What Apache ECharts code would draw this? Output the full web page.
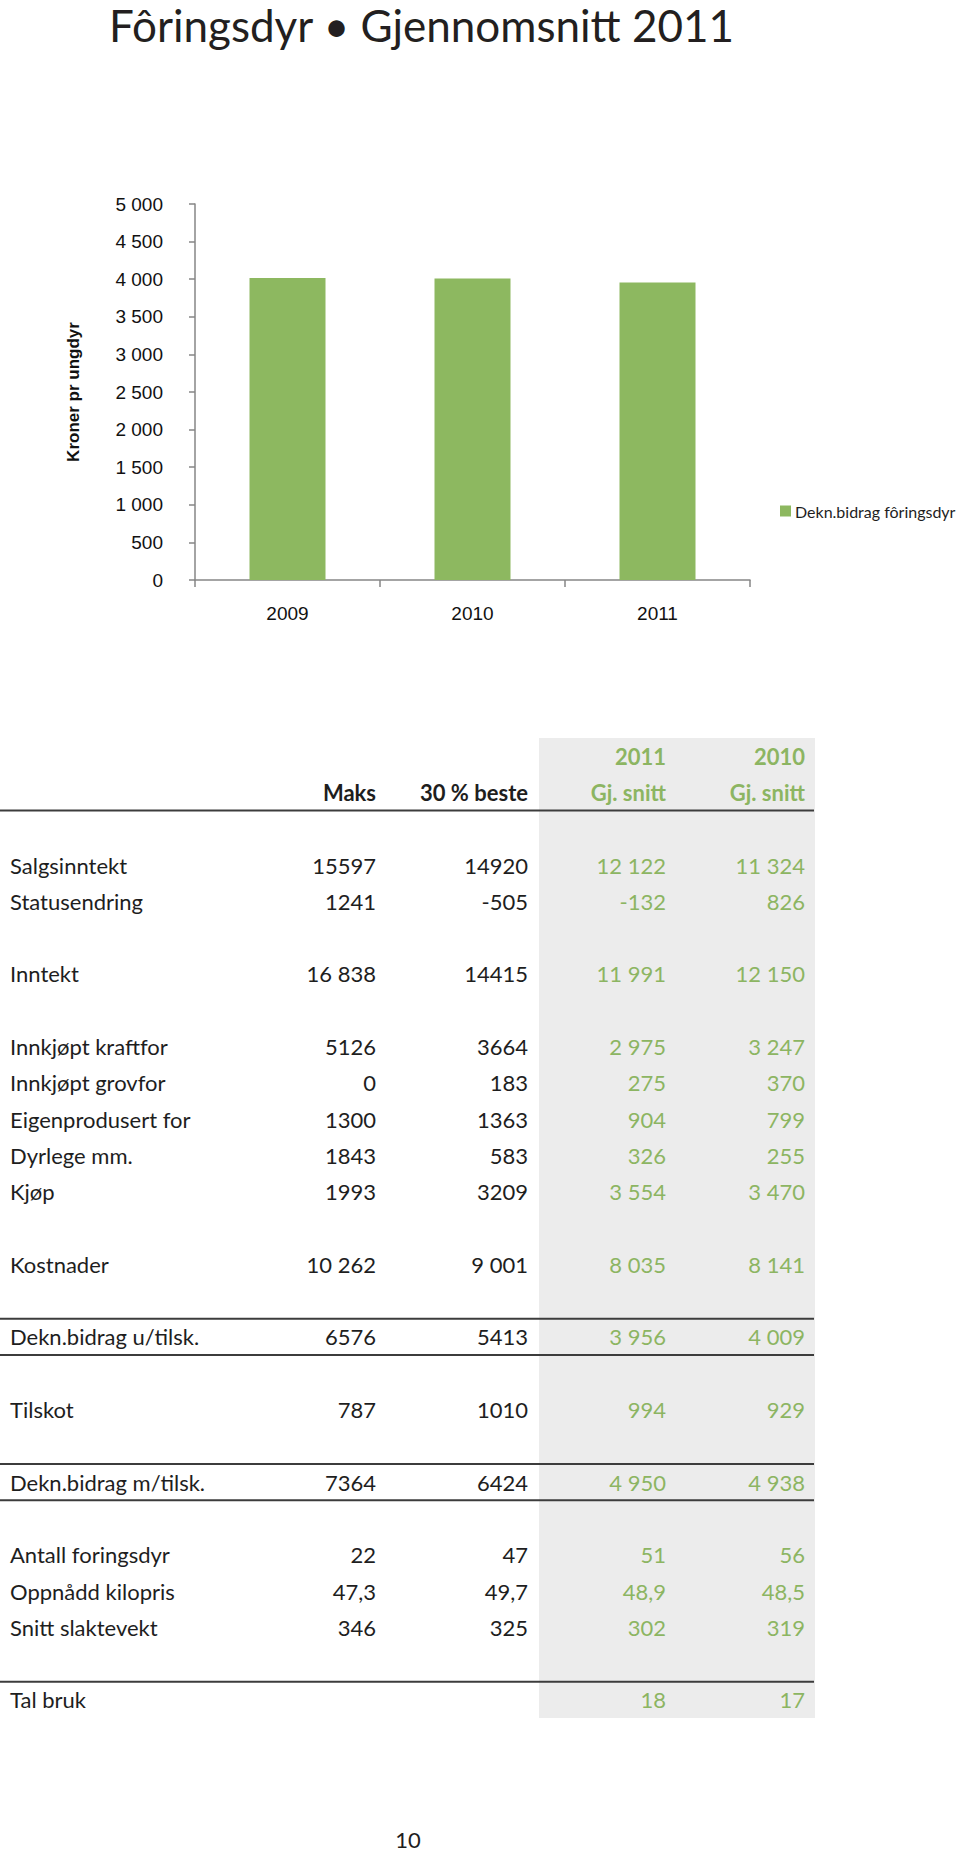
<!DOCTYPE html>
<html><head><meta charset="utf-8">
<script src="https://cdn.jsdelivr.net/npm/echarts@6/dist/echarts.min.js"></script>
<style>html,body{margin:0;padding:0;background:#fff}#c{width:960px;height:1855px}</style>
</head><body><div id="c"></div>
<script>
// ---------- data ----------
const titleText = 'Fôringsdyr • Gjennomsnitt 2011';
const years = ['2009', '2010', '2011'];
const deknBidrag = [4015, 4009, 3956];
const seriesName = 'Dekn.bidrag fôringsdyr';
const yAxisTitle = 'Kroner pr ungdyr';

const headYears = ['', '', '2011', '2010'];
const headNames = ['Maks', '30 % beste', 'Gj. snitt', 'Gj. snitt'];
const rowLabels = ['Salgsinntekt', 'Statusendring', 'Inntekt', 'Innkjøpt kraftfor', 'Innkjøpt grovfor',
  'Eigenprodusert for', 'Dyrlege mm.', 'Kjøp', 'Kostnader', 'Dekn.bidrag u/tilsk.', 'Tilskot',
  'Dekn.bidrag m/tilsk.', 'Antall foringsdyr', 'Oppnådd kilopris', 'Snitt slaktevekt', 'Tal bruk'];
const maks = ['15597', '1241', '16 838', '5126', '0', '1300', '1843', '1993', '10 262', '6576', '787', '7364', '22', '47,3', '346', ''];
const beste = ['14920', '-505', '14415', '3664', '183', '1363', '583', '3209', '9 001', '5413', '1010', '6424', '47', '49,7', '325', ''];
const snitt2011 = ['12 122', '-132', '11 991', '2 975', '275', '904', '326', '3 554', '8 035', '3 956', '994', '4 950', '51', '48,9', '302', '18'];
const snitt2010 = ['11 324', '826', '12 150', '3 247', '370', '799', '255', '3 470', '8 141', '4 009', '929', '4 938', '56', '48,5', '319', '17'];
const pageNumber = '10';

// ---------- layout ----------
const rowSlot = [0, 1, 3, 5, 6, 7, 8, 9, 11, 13, 15, 17, 19, 20, 21, 23];
const ruleSlots = [-1.5, 12.5, 13.5, 16.5, 17.5, 22.5];
const slotY0 = 865, slotH = 36.3;
const colRight = [376, 528, 666, 805];
const labelX = 10;
const bandX = 539, bandW = 276;
const tableW = 814;
const slotY = s => slotY0 + s * slotH;

const GREEN = '#8cb562';
const BAR = '#8db860';
const INK = '#1e1e1e';
const TFONT = 'Lato';

const graphics = [];
graphics.push({ type: 'rect', shape: { x: bandX, y: slotY(-3.5), width: bandW, height: slotY(23.5) - slotY(-3.5) },
  style: { fill: '#ececec' }, z: 0 });
ruleSlots.forEach(s => graphics.push({ type: 'line', shape: { x1: 0, y1: slotY(s), x2: tableW, y2: slotY(s) },
  style: { stroke: '#3c3c3c', lineWidth: 2 }, z: 1 }));
function txt(x, y, text, align, color, weight, size) {
  const sz = size || 22;
  graphics.push({ type: 'text', x: x, y: y, z: 2, style: { text: text, align: align, verticalAlign: 'middle',
    fill: color, lineHeight: sz, font: (weight || 'normal') + ' ' + sz + 'px ' + TFONT } });
}
txt(109, 25, titleText, 'left', '#231f20', 'normal', 44);
headYears.forEach((t, i) => { if (t) txt(colRight[i], slotY(-3), t, 'right', i >= 2 ? GREEN : INK, 'bold', 22); });
headNames.forEach((t, i) => txt(colRight[i], slotY(-2), t, 'right', i >= 2 ? GREEN : INK, 'bold', 22));
rowLabels.forEach((lab, r) => {
  const y = slotY(rowSlot[r]);
  txt(labelX, y, lab, 'left', INK);
  [maks, beste, snitt2011, snitt2010].forEach((col, c) => {
    if (col[r] !== '') txt(colRight[c], y, col[r], 'right', c >= 2 ? GREEN : INK);
  });
});
txt(408, 1839, pageNumber, 'center', INK, 'normal', 22);

const fmt = v => v >= 1000 ? Math.floor(v / 1000) + ' ' + String(v % 1000).padStart(3, '0') : String(v);

const chart = echarts.init(document.getElementById('c'), null, { renderer: 'svg' });
chart.setOption({
  animation: false,
  backgroundColor: '#fff',
  grid: { left: 195, right: 210, top: 204, bottom: 1275, containLabel: false },
  legend: { data: [seriesName], left: 775, top: 498, icon: 'rect', itemWidth: 11, itemHeight: 11, itemGap: 4,
    textStyle: { fontFamily: TFONT, fontSize: 16, color: INK, padding: [0, 0, 0, -1] } },
  xAxis: {
    type: 'category', data: years,
    axisLine: { lineStyle: { color: '#868686', width: 1.5 } },
    axisTick: { show: true, length: 7, lineStyle: { color: '#868686', width: 1.5 } },
    axisLabel: { fontFamily: 'Liberation Sans', fontSize: 19, color: '#111', margin: 24 }
  },
  yAxis: {
    type: 'value', min: 0, max: 5000, interval: 500,
    name: yAxisTitle, nameLocation: 'middle', nameGap: 113,
    nameTextStyle: { fontFamily: 'Liberation Sans', fontWeight: 'bold', fontSize: 17, color: '#111' },
    axisLine: { show: true, lineStyle: { color: '#868686', width: 1.5 } },
    axisTick: { show: true, length: 6, lineStyle: { color: '#868686', width: 1.5 } },
    splitLine: { show: false },
    axisLabel: { fontFamily: 'Liberation Sans', fontSize: 19, color: '#111', margin: 32, formatter: fmt }
  },
  series: [{ name: seriesName, type: 'bar', data: deknBidrag, barWidth: 76, itemStyle: { color: BAR } }],
  graphic: graphics
});
</script></body></html>
